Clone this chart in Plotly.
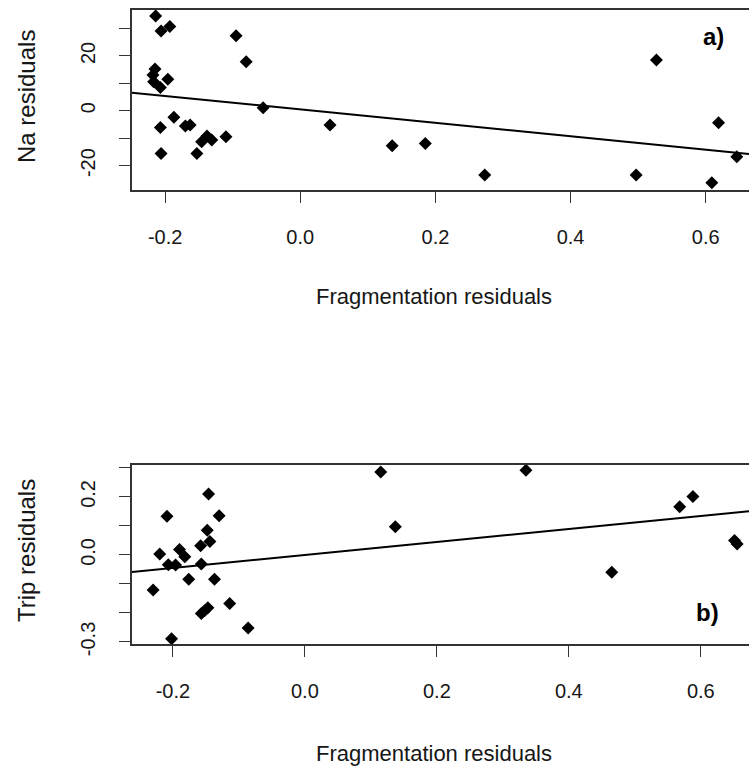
import plotly.graph_objects as go

# Panel a): sodium residuals against fragmentation residuals
na_frag = [-0.214, -0.206, -0.193, -0.095, -0.080, -0.215, -0.218, -0.217, -0.207, -0.196,
           -0.055, -0.187, -0.207, -0.170, -0.163, -0.138, -0.146, -0.131, -0.110, -0.206,
           -0.153, 0.044, 0.136, 0.185, 0.273, 0.527, 0.497, 0.619, 0.646, 0.609]
na_res = [34.6, 29.1, 30.7, 27.4, 17.9, 15.2, 13.0, 10.6, 8.5, 11.5,
          1.1, -2.4, -6.1, -5.6, -5.2, -9.2, -11.3, -10.7, -9.5, -15.6,
          -15.6, -5.2, -12.8, -11.9, -23.4, 18.5, -23.4, -4.4, -16.8, -26.3]
na_fit = {"intercept": 0.5, "slope": -24.5}

# Panel b): trip residuals against fragmentation residuals
trip_frag = [-0.146, -0.209, -0.130, -0.148, -0.144, -0.158, -0.220, -0.190, -0.182, -0.207,
             -0.196, -0.157, -0.176, -0.137, -0.230, -0.114, -0.157, -0.147, -0.152, -0.086,
             -0.202, 0.115, 0.335, 0.137, 0.568, 0.588, 0.465, 0.651, 0.655]
trip_res = [0.210, 0.133, 0.135, 0.085, 0.046, 0.032, 0.003, 0.019, -0.006, -0.034,
            -0.035, -0.031, -0.084, -0.084, -0.121, -0.167, -0.202, -0.182, -0.192, -0.252,
            -0.289, 0.286, 0.292, 0.097, 0.166, 0.201, -0.060, 0.050, 0.038]
trip_fit = {"intercept": 0.0, "slope": 0.2235}

x_ticks = [-0.2, 0.0, 0.2, 0.4, 0.6]
x_ticktext = ["-0.2", "0.0", "0.2", "0.4", "0.6"]
na_ticks = [-20, -10, 0, 10, 20, 30]
na_ticktext = ["-20", "", "0", "", "20", ""]
trip_ticks = [-0.3, -0.2, -0.1, 0.0, 0.1, 0.2, 0.3]
trip_ticktext = ["-0.3", "", "", "0.0", "", "0.2", ""]

x_range_a = [-0.249, 0.664]
y_range_a = [-28.9, 36.75]
x_range_b = [-0.262, 0.673]
y_range_b = [-0.307, 0.31]

W, H = 749, 768
FONT = "Liberation Sans, Arial, sans-serif"
INK = "#161616"


def px_x(p):
    return p / W


def px_y(p):
    return 1 - p / H


fig = go.Figure()

marker = dict(symbol="diamond", size=10, color="black", line=dict(width=0))

fig.add_trace(go.Scatter(x=na_frag, y=na_res, mode="markers", marker=marker,
                         xaxis="x", yaxis="y", showlegend=False))
fig.add_trace(go.Scatter(
    x=x_range_a,
    y=[na_fit["intercept"] + na_fit["slope"] * v for v in x_range_a],
    mode="lines", line=dict(color="black", width=2),
    xaxis="x", yaxis="y", showlegend=False))

fig.add_trace(go.Scatter(x=trip_frag, y=trip_res, mode="markers", marker=marker,
                         xaxis="x2", yaxis="y2", showlegend=False))
fig.add_trace(go.Scatter(
    x=x_range_b,
    y=[trip_fit["intercept"] + trip_fit["slope"] * v for v in x_range_b],
    mode="lines", line=dict(color="black", width=2),
    xaxis="x2", yaxis="y2", showlegend=False))

axis_common = dict(
    showgrid=False, zeroline=False, showline=True, linecolor="#333333", linewidth=1.5,
    ticks="outside", ticklen=11, tickwidth=1.2, tickcolor="#333333",
    tickfont=dict(family=FONT, size=20, color=INK), automargin=False,
)

top_dom = [px_y(190), px_y(10)]
bot_dom = [px_y(644), px_y(465)]

fig.update_layout(
    width=W, height=H,
    margin=dict(l=0, r=0, t=0, b=0),
    paper_bgcolor="white", plot_bgcolor="white",
    xaxis=dict(axis_common, domain=[px_x(132), 1], range=x_range_a, anchor="y",
               mirror=True, tickvals=x_ticks, ticktext=x_ticktext, ticklabelstandoff=17),
    yaxis=dict(axis_common, domain=top_dom, range=y_range_a, anchor="x",
               tickvals=na_ticks, ticktext=na_ticktext, tickangle=-90, ticklabelstandoff=16),
    xaxis2=dict(axis_common, domain=[px_x(132), 1], range=x_range_b, anchor="y2",
                mirror=True, tickvals=x_ticks, ticktext=x_ticktext, ticklabelstandoff=17),
    yaxis2=dict(axis_common, domain=bot_dom, range=y_range_b, anchor="x2",
                tickvals=trip_ticks, ticktext=trip_ticktext, tickangle=-90, ticklabelstandoff=16),
)

ytitle_font = dict(family=FONT, size=24, color=INK)
xtitle_font = dict(family=FONT, size=22, color=INK)
annotations = [
    dict(text="Na residuals", x=px_x(26), y=px_y(97), textangle=-90, font=ytitle_font),
    dict(text="Trip residuals", x=px_x(26), y=px_y(551), textangle=-90, font=ytitle_font),
    dict(text="Fragmentation residuals", x=px_x(434), y=px_y(296), font=xtitle_font),
    dict(text="Fragmentation residuals", x=px_x(434), y=px_y(753), font=xtitle_font),
]
for a in annotations:
    fig.add_annotation(xref="paper", yref="paper", showarrow=False,
                       xanchor="center", yanchor="middle", **a)

panel_font = dict(family=FONT, size=24, color="black", weight="bold")
fig.add_annotation(xref="paper", yref="paper", x=px_x(713), y=px_y(36), text="a)",
                   showarrow=False, xanchor="center", yanchor="middle", font=panel_font)
fig.add_annotation(xref="paper", yref="paper", x=px_x(707), y=px_y(612), text="b)",
                   showarrow=False, xanchor="center", yanchor="middle", font=panel_font)

fig.write_html("out.html")
